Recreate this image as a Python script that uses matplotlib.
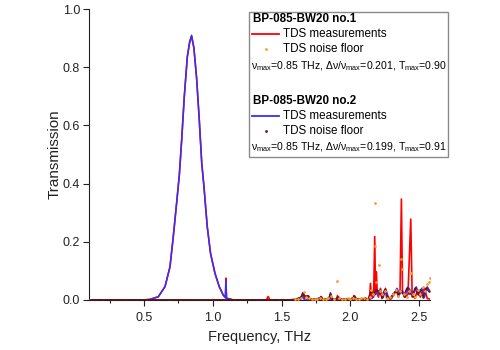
import matplotlib

matplotlib.use("Agg")
import matplotlib.pyplot as plt
from matplotlib.lines import Line2D
from matplotlib.patches import Rectangle

plt.rcParams["font.family"] = ["Liberation Sans", "DejaVu Sans"]
plt.rcParams["mathtext.fontset"] = "custom"
plt.rcParams["mathtext.rm"] = "Liberation Sans"

# filter transmission peak (both samples)
peak_freq = [0.10, 0.50, 0.544, 0.604, 0.653, 0.689, 0.713, 0.737, 0.757, 0.774,
             0.793, 0.815, 0.832, 0.846, 0.863, 0.883, 0.902, 0.920, 0.936, 0.960,
             0.984, 1.016, 1.047, 1.076, 1.092, 1.096, 1.100, 1.125, 1.150]
peak_t1 = [0.0, 0.0, 0.002, 0.011, 0.046, 0.114, 0.218, 0.332, 0.430, 0.550,
           0.699, 0.836, 0.885, 0.907, 0.866, 0.760, 0.619, 0.470, 0.390, 0.252,
           0.160, 0.092, 0.046, 0.017, 0.008, 0.075, 0.006, 0.003, 0.0]
peak_t2 = [0.0, 0.0, 0.002, 0.011, 0.046, 0.114, 0.218, 0.332, 0.430, 0.550,
           0.699, 0.836, 0.888, 0.910, 0.866, 0.760, 0.619, 0.470, 0.390, 0.252,
           0.160, 0.092, 0.046, 0.017, 0.008, 0.065, 0.006, 0.003, 0.0]

# high-frequency part, sample no.1 (red)
hf_freq1 = [1.39, 1.403, 1.415, 1.64, 1.655, 1.665, 1.69, 1.70, 1.78, 1.786,
            1.795, 1.85, 1.856, 1.865, 1.90, 1.907, 1.915, 2.02, 2.026, 2.035,
            2.10, 2.14, 2.147, 2.155, 2.17, 2.178, 2.184, 2.19, 2.197, 2.205,
            2.22, 2.23, 2.256, 2.265, 2.30, 2.336, 2.35, 2.362, 2.372, 2.38,
            2.40, 2.42, 2.44, 2.45, 2.47, 2.49, 2.51, 2.54, 2.56, 2.58]
hf_t1 = [0.0, 0.012, 0.0, 0.0, 0.025, 0.005, 0.012, 0.0, 0.0, 0.012,
         0.0, 0.0, 0.018, 0.0, 0.0, 0.015, 0.0, 0.0, 0.015, 0.0,
         0.005, 0.003, 0.057, 0.005, 0.010, 0.218, 0.020, 0.097, 0.020, 0.010,
         0.040, 0.005, 0.040, 0.005, 0.005, 0.035, 0.010, 0.030, 0.347, 0.030,
         0.010, 0.020, 0.278, 0.020, 0.005, 0.035, 0.010, 0.040, 0.005, 0.003]

# high-frequency part, sample no.2 (blue)
hf_freq2 = [1.64, 1.655, 1.665, 1.85, 1.856, 1.865, 2.14, 2.16, 2.18, 2.20,
            2.22, 2.24, 2.26, 2.28, 2.32, 2.34, 2.36, 2.38, 2.40, 2.42,
            2.44, 2.46, 2.48, 2.50, 2.52, 2.54, 2.56, 2.58]
hf_t2 = [0.0, 0.024, 0.0, 0.0, 0.025, 0.0, 0.0, 0.010, 0.030, 0.020,
         0.035, 0.010, 0.035, 0.005, 0.020, 0.040, 0.020, 0.030, 0.015, 0.045,
         0.030, 0.020, 0.045, 0.020, 0.040, 0.010, 0.045, 0.030]

# TDS noise floor
low_freq = [0.12, 0.20, 0.28, 0.36, 0.44, 0.52, 0.60, 0.68, 0.76, 0.84,
            0.92, 1.00, 1.08, 1.16, 1.24, 1.32, 1.40, 1.48, 1.56]
low_noise = [0.001, 0.001, 0.001, 0.001, 0.001, 0.001, 0.001, 0.001, 0.001, 0.001,
             0.001, 0.001, 0.001, 0.001, 0.001, 0.001, 0.001, 0.001, 0.001]

noise_freq1 = [1.60, 1.62, 1.64, 1.66, 1.68, 1.70, 1.72, 1.74, 1.76, 1.78,
               1.80, 1.82, 1.84, 1.86, 1.88, 1.907, 1.92, 1.94, 1.96, 1.98,
               2.00, 2.02, 2.04, 2.06, 2.08, 2.10, 2.12, 2.14, 2.15, 2.165,
               2.178, 2.183, 2.19, 2.207, 2.215, 2.23, 2.25, 2.27, 2.29, 2.31,
               2.33, 2.35, 2.362, 2.372, 2.376, 2.39, 2.41, 2.425, 2.44, 2.455,
               2.47, 2.49, 2.51, 2.53, 2.545, 2.56, 2.57, 2.58]
noise_t1 = [0.003, 0.004, 0.008, 0.028, 0.010, 0.006, 0.003, 0.004, 0.003, 0.006,
            0.003, 0.004, 0.005, 0.012, 0.004, 0.066, 0.008, 0.004, 0.003, 0.005,
            0.004, 0.008, 0.004, 0.003, 0.005, 0.006, 0.004, 0.010, 0.035, 0.020,
            0.187, 0.334, 0.060, 0.120, 0.030, 0.020, 0.030, 0.008, 0.010, 0.020,
            0.035, 0.015, 0.030, 0.142, 0.107, 0.020, 0.010, 0.030, 0.092, 0.020,
            0.010, 0.035, 0.020, 0.045, 0.030, 0.055, 0.060, 0.075]

noise_freq2 = [1.60, 1.62, 1.64, 1.655, 1.67, 1.69, 1.71, 1.73, 1.75, 1.77,
               1.786, 1.80, 1.82, 1.84, 1.856, 1.87, 1.89, 1.91, 1.93, 1.95,
               1.97, 1.99, 2.01, 2.03, 2.05, 2.07, 2.09, 2.11, 2.13, 2.15,
               2.17, 2.19, 2.21, 2.23, 2.25, 2.27, 2.29, 2.31, 2.33, 2.35,
               2.37, 2.39, 2.41, 2.43, 2.45, 2.47, 2.49, 2.51, 2.53, 2.55, 2.57]
noise_t2 = [0.003, 0.005, 0.010, 0.022, 0.012, 0.015, 0.004, 0.003, 0.004, 0.006,
            0.010, 0.003, 0.004, 0.005, 0.020, 0.004, 0.003, 0.010, 0.004, 0.003,
            0.004, 0.003, 0.005, 0.012, 0.004, 0.003, 0.004, 0.005, 0.004, 0.030,
            0.020, 0.035, 0.030, 0.010, 0.035, 0.010, 0.005, 0.020, 0.030, 0.020,
            0.030, 0.015, 0.040, 0.025, 0.015, 0.040, 0.020, 0.035, 0.010, 0.040, 0.030]

RED = "#ff0000"
BLUE = "#3030ff"
ORANGE = "#ff9a30"
DARK = "#6e1010"

fig = plt.figure(figsize=(5, 3.5), dpi=100)
ax = fig.add_axes([0.178, 0.143, 0.682, 0.831])

ax.plot(peak_freq + hf_freq1, peak_t1 + hf_t1, color=RED, lw=1.2, zorder=3)
ax.plot(peak_freq + hf_freq2, peak_t2 + hf_t2, color=BLUE, lw=1.1, zorder=4)
ax.plot(noise_freq1, noise_t1, ls="none", marker="o",
        ms=2.0, mew=0, color=ORANGE, zorder=6)
# the noise floor of no.2 is sampled densely enough to read as a line
ax.plot(low_freq + noise_freq2, low_noise + noise_t2, ls="-", lw=0.9,
        marker="o", ms=1.8, mew=0, color=DARK, zorder=5)

ax.set_xlim(0.1, 2.58)
ax.set_ylim(0, 1.0)
ax.set_xticks([0.5, 1.0, 1.5, 2.0, 2.5])
ax.set_xticks([0.25, 0.75, 1.25, 1.75, 2.25], minor=True)
ax.set_yticks([0.0, 0.2, 0.4, 0.6, 0.8, 1.0])
ax.xaxis.set_major_formatter(matplotlib.ticker.FormatStrFormatter("%.1f"))
ax.yaxis.set_major_formatter(matplotlib.ticker.FormatStrFormatter("%.1f"))
ax.tick_params(axis="both", which="major", labelsize=9, length=4, width=0.8,
               color="#222222", labelcolor="#222222")
ax.tick_params(axis="x", which="major", pad=5)
ax.tick_params(axis="y", which="major", pad=2.5)
ax.tick_params(axis="x", which="minor", length=2.5, width=0.8, color="#222222")
for side in ("top", "right"):
    ax.spines[side].set_visible(False)
for side in ("left", "bottom"):
    ax.spines[side].set_linewidth(0.8)
    ax.spines[side].set_color("#222222")
ax.set_xlabel("Frequency, THz", fontsize=10.5, color="#222222", labelpad=4)
ax.set_ylabel("Transmission", fontsize=11, color="#222222", labelpad=1)

# legend box, built in figure pixels
W, H = 500.0, 350.0


def fx(px):
    return px / W


def fy(py):
    return 1 - py / H


fig.add_artist(Rectangle((fx(249), fy(157)), fx(448) - fx(249), fy(12) - fy(157),
                         transform=fig.transFigure, fill=True, facecolor="white",
                         edgecolor="#8a8a8a", lw=1.0, zorder=10))

rows = [
    (19, 34, 49, 66, "BP-085-BW20 no.1", RED, ORANGE,
     "ν$_{\\rm max}$=0.85 THz, Δν/ν$_{\\rm max}$=0.201, T$_{\\rm max}$=0.90"),
    (101, 116, 131, 147, "BP-085-BW20 no.2", BLUE, DARK,
     "ν$_{\\rm max}$=0.85 THz, Δν/ν$_{\\rm max}$=0.199, T$_{\\rm max}$=0.91"),
]
for y_t, y_m, y_n, y_nu, title, lc, nc, nu in rows:
    fig.text(fx(253), fy(y_t), title, fontsize=8.4, fontweight="bold",
             va="center", ha="left", zorder=11)
    fig.add_artist(Line2D([fx(252), fx(279)], [fy(y_m), fy(y_m)], color=lc,
                          lw=1.3, transform=fig.transFigure, zorder=11))
    fig.text(fx(283), fy(y_m), "TDS measurements", fontsize=8.4,
             va="center", ha="left", zorder=11)
    fig.add_artist(Line2D([fx(266)], [fy(y_n)], ls="none", marker="o", ms=2,
                          mew=0, color=nc, transform=fig.transFigure, zorder=11))
    fig.text(fx(283), fy(y_n), "TDS noise floor", fontsize=8.4,
             va="center", ha="left", zorder=11)
    fig.text(fx(251), fy(y_nu), nu, fontsize=7.6, va="center", ha="left",
             zorder=11)

fig.savefig("out.png", dpi=100)
